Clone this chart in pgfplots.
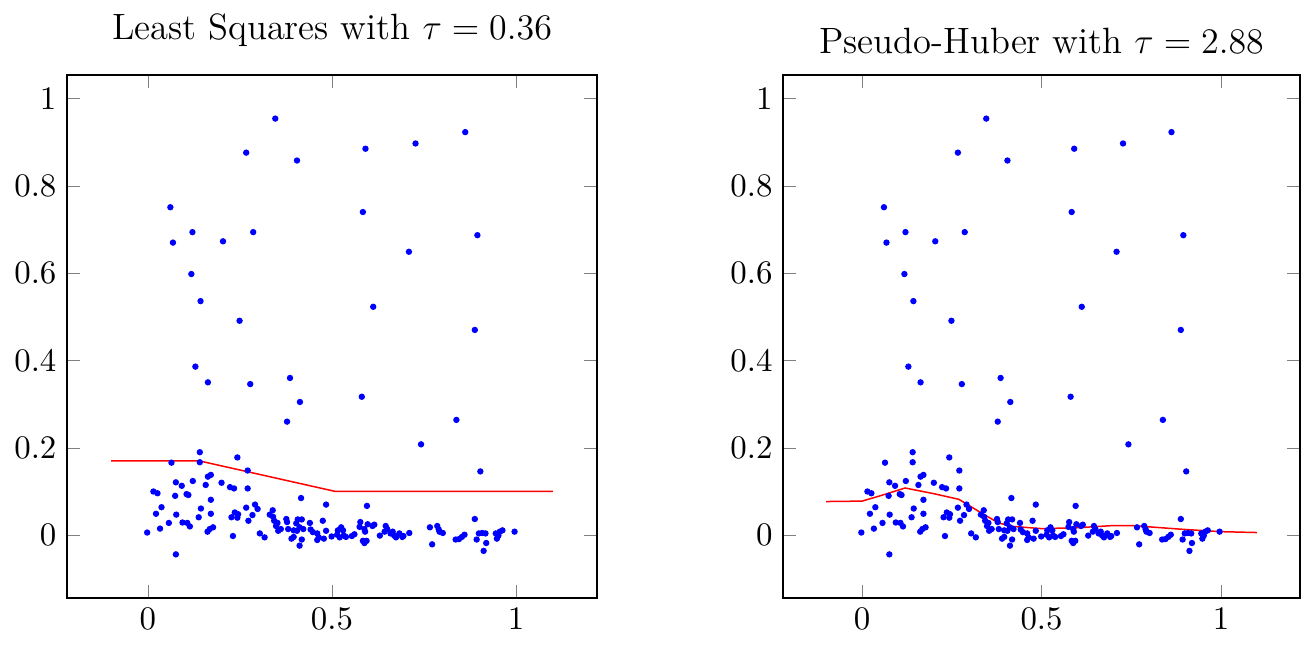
\documentclass[border=0pt]{standalone}
\usepackage{pgfplots}
\pgfplotsset{compat=1.18}
\usepackage{pgfplotstable}
\pgfplotstableread{
x y
0.346 0.954
0.267 0.876
0.405 0.858
0.061 0.751
0.121 0.694
0.068 0.670
0.204 0.673
0.286 0.694
0.118 0.598
0.143 0.536
0.249 0.491
0.129 0.386
0.163 0.350
0.278 0.346
0.386 0.360
0.413 0.305
0.378 0.260
0.591 0.885
0.727 0.897
0.862 0.923
0.584 0.740
0.895 0.687
0.709 0.649
0.612 0.523
0.888 0.470
0.581 0.317
0.838 0.264
0.742 0.208
0.903 0.146
0.141 0.190
0.064 0.166
0.141 0.167
0.243 0.178
0.271 0.148
0.076 0.121
0.092 0.113
0.122 0.124
0.163 0.134
0.171 0.138
0.157 0.115
0.200 0.120
0.223 0.110
0.234 0.107
0.271 0.107
0.015 0.100
0.026 0.096
0.074 0.090
0.105 0.094
0.110 0.092
0.171 0.081
0.037 0.064
0.144 0.061
0.267 0.063
0.291 0.070
0.298 0.060
0.022 0.049
0.077 0.047
0.171 0.049
0.138 0.041
0.227 0.041
0.236 0.052
0.245 0.048
0.243 0.040
0.284 0.046
0.273 0.033
0.057 0.028
0.094 0.029
0.107 0.028
0.114 0.020
0.177 0.018
0.168 0.014
0.162 0.008
0.033 0.015
-0.002 0.006
0.231 -0.002
0.076 -0.044
0.416 0.085
0.484 0.070
0.339 0.057
0.331 0.047
0.340 0.042
0.343 0.033
0.352 0.028
0.348 0.021
0.361 0.014
0.354 0.010
0.376 0.037
0.378 0.030
0.407 0.036
0.418 0.036
0.403 0.027
0.412 0.018
0.405 0.010
0.396 0.011
0.381 0.014
0.440 0.028
0.422 0.014
0.442 0.013
0.448 0.007
0.460 0.004
0.475 0.033
0.484 0.010
0.478 -0.008
0.304 0.004
0.317 -0.005
0.390 -0.008
0.396 -0.004
0.418 -0.010
0.412 -0.024
0.460 -0.011
0.464 -0.005
0.499 -0.003
0.595 0.067
0.525 0.018
0.516 0.011
0.514 0.001
0.521 -0.005
0.532 -0.001
0.538 -0.004
0.530 0.011
0.554 -0.002
0.561 0.002
0.577 0.030
0.575 0.019
0.588 0.014
0.590 0.008
0.597 0.025
0.610 0.021
0.615 0.024
0.584 -0.013
0.588 -0.018
0.594 -0.013
0.630 -0.001
0.646 0.021
0.650 0.014
0.643 0.008
0.659 0.004
0.665 0.008
0.669 -0.001
0.674 -0.005
0.683 0.004
0.691 -0.004
0.888 0.037
0.694 -0.002
0.710 0.005
0.766 0.018
0.786 0.021
0.790 0.013
0.801 0.005
0.792 0.008
0.772 -0.021
0.836 -0.010
0.845 -0.009
0.853 -0.004
0.860 0.001
0.893 -0.010
0.899 0.004
0.908 0.005
0.917 0.004
0.919 -0.018
0.912 -0.036
0.945 0.004
0.956 0.008
0.963 0.011
0.952 -0.001
0.948 -0.008
0.996 0.008
}\pts
\begin{document}
\begin{tikzpicture}
\useasboundingbox (0,0) rectangle (438.3pt,215pt);
\pgfplotsset{
  myax/.style={height=174.3pt, scale only axis, anchor=south west,
    title style={font=\fontsize{12.2}{14}\selectfont},
    tick label style={font=\fontsize{10.95}{13}\selectfont},
    xtick={0,0.5,1}, ytick={0,0.2,0.4,0.6,0.8,1}},
}
\begin{axis}[myax, width=176.7pt, at={(22.3pt,15.7pt)}, title={Least Squares with $\tau = 0.36$}]
\addplot[only marks, mark=*, mark size=0.85pt, blue] table {\pts};
\addplot[red, line width=0.5pt, no marks] coordinates {(-0.1,0.17) (0.14,0.17) (0.51,0.10) (1.1,0.10)};
\end{axis}
\begin{axis}[myax, width=172.3pt, at={(261pt,15.7pt)}, title={Pseudo-Huber with $\tau = 2.88$}, title style={yshift=-2.5pt}]
\addplot[only marks, mark=*, mark size=0.85pt, blue] table {\pts};
\addplot[red, line width=0.5pt, no marks] coordinates {(-0.1,0.077) (0,0.078) (0.05,0.09) (0.12,0.108) (0.2,0.095) (0.27,0.082) (0.33,0.052) (0.38,0.028) (0.42,0.020) (0.5,0.015) (0.6,0.017) (0.7,0.022) (0.75,0.022) (0.8,0.019) (0.9,0.013) (1.0,0.008) (1.1,0.006)};
\end{axis}
\end{tikzpicture}
\end{document}
